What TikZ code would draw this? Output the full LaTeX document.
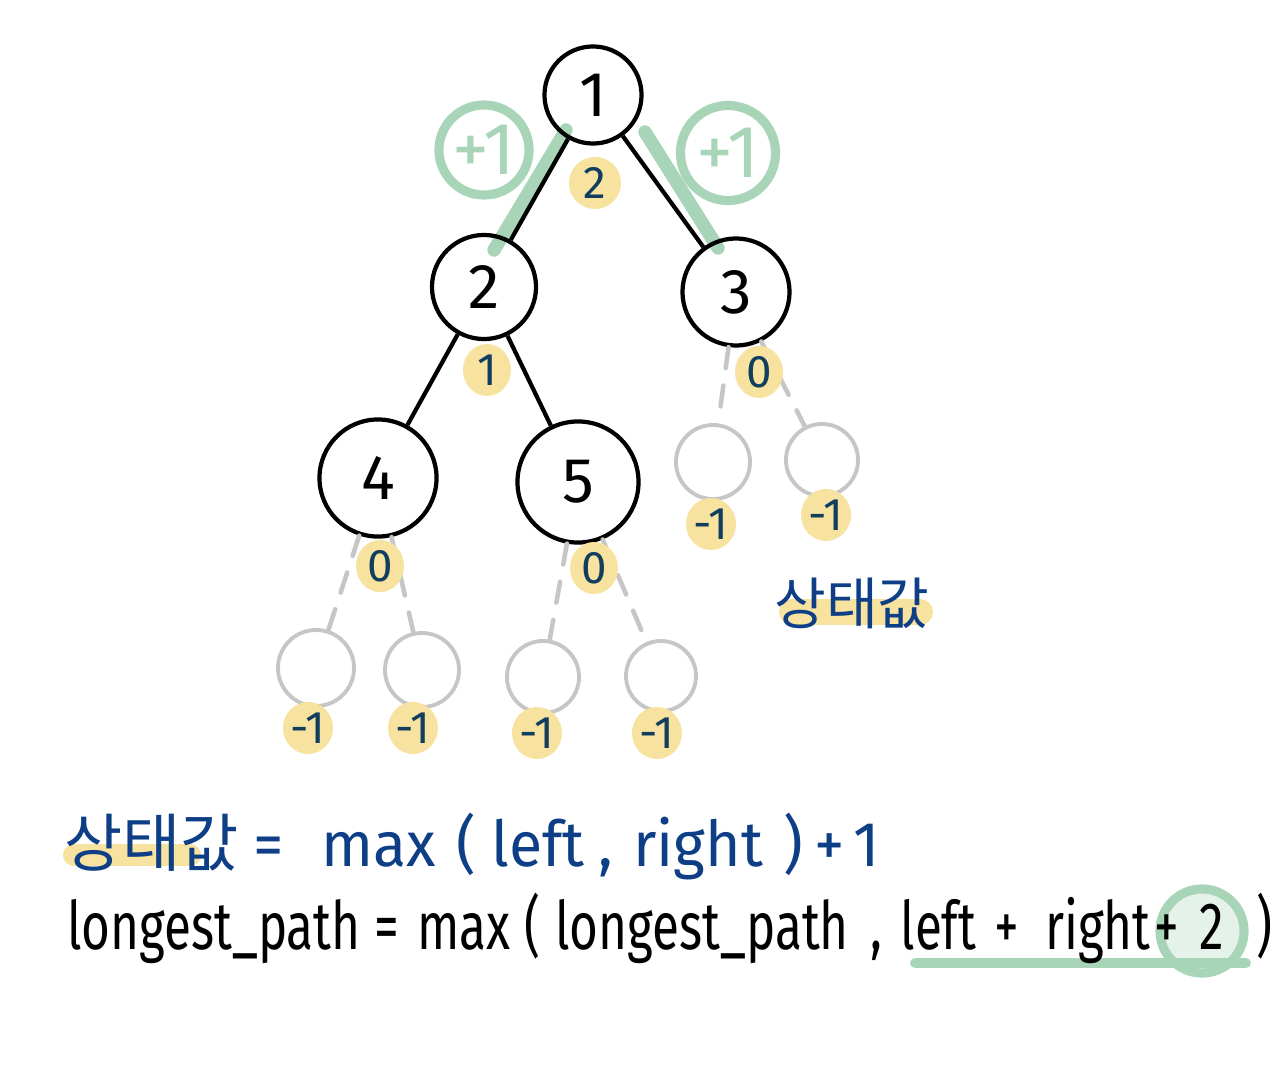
\documentclass[tikz,border=0pt]{standalone}
\usepackage{fontspec}
\setmainfont{Fira Sans}
\newfontfamily\krfont{Noto Sans CJK KR}
\newfontfamily\handfont[FakeStretch=0.74]{Fira Sans}
\newfontfamily\handwide[FakeStretch=0.96]{Fira Sans}
\usetikzlibrary{shapes.geometric}
\definecolor{hly}{HTML}{F7E2A0}
\definecolor{hlgreen}{HTML}{A8D5B8}
\definecolor{nullgray}{HTML}{C6C6C6}
\definecolor{inkblue}{HTML}{0E3F86}
\definecolor{navy}{HTML}{123E5E}
\begin{document}
\begin{tikzpicture}[
    x=0.01cm, y=-0.01cm,
    tnode/.style={draw, circle, line width=1.2pt, inner sep=0pt, font=\fontsize{18}{20}\selectfont},
    nullnode/.style={draw=nullgray, circle, line width=1.1pt, inner sep=0pt},
    val/.style={fill=hly, ellipse, inner sep=0pt, minimum width=0.48cm, minimum height=0.52cm,
        text=navy, font=\fontsize{13}{15}\selectfont},
    plusone/.style={draw=hlgreen, circle, line width=2.6pt, inner sep=0pt, text=hlgreen,
        font=\fontsize{21}{23}\selectfont},
    nulledge/.style={draw=nullgray, line width=1.3pt, line cap=round, dash pattern=on 6pt off 5pt},
    hl/.style={draw=hlgreen, line width=3.8pt, line cap=round},
    marker/.style={draw=hly, line width=0.26cm, line cap=round}
]
\useasboundingbox (0,0) rectangle (1288,1070);

% green highlights on the two upper edges
\coordinate (g1a) at (566,130);
\coordinate (g1b) at (494,250);
\coordinate (g2a) at (645,132);
\coordinate (g2b) at (718,248);
\draw[hl] (g1a) -- (g1b);
\draw[hl] (g2a) -- (g2b);

\node[plusone, minimum size=0.9cm] (pl) at (484,150) {+1};
\node[plusone, minimum size=0.95cm] (pr) at (728,153) {+1};

% tree
\node[tnode, minimum size=0.97cm] (n1) at (593,95) {1};
\node[tnode, minimum size=1.04cm] (n2) at (484,287) {2};
\node[tnode, minimum size=1.07cm] (n3) at (736,292) {3};
\node[tnode, minimum size=1.17cm] (n4) at (378,478) {4};
\node[tnode, minimum size=1.21cm] (n5) at (578,482) {5};

\node[nullnode, minimum size=0.74cm] (n3l) at (713,462) {};
\node[nullnode, minimum size=0.72cm] (n3r) at (822,460) {};
\node[nullnode, minimum size=0.76cm] (n4l) at (316,668) {};
\node[nullnode, minimum size=0.74cm] (n4r) at (422,670) {};
\node[nullnode, minimum size=0.72cm] (n5l) at (543,677) {};
\node[nullnode, minimum size=0.70cm] (n5r) at (661,676) {};

\draw[line width=1.2pt] (n1) -- (n2);
\draw[line width=1.2pt] (n1) -- (n3);
\draw[line width=1.2pt] (n2) -- (n4);
\draw[line width=1.2pt] (n2) -- (n5);

\draw[nulledge] (n3) -- (n3l);
\draw[nulledge] (n3) -- (n3r);
\draw[nulledge] (n4) -- (n4l);
\draw[nulledge] (n4) -- (n4r);
\draw[nulledge] (n5) -- (n5l);
\draw[nulledge] (n5) -- (n5r);

% state values
\node[val, minimum width=0.52cm] (v1) at (595,183) {2};
\node[val] (v2) at (487,370) {1};
\node[val] (v3) at (759,372) {0};
\node[val] (v4) at (380,566) {0};
\node[val] (v5) at (594,568) {0};
\node[val, minimum width=0.5cm] (v3l) at (711,524) {-1};
\node[val, minimum width=0.5cm] (v3r) at (826,515) {-1};
\node[val, minimum width=0.5cm] (v4l) at (308,728) {-1};
\node[val, minimum width=0.5cm] (v4r) at (413,728) {-1};
\node[val, minimum width=0.5cm] (v5l) at (537,733) {-1};
\node[val, minimum width=0.5cm] (v5r) at (657,733) {-1};

\coordinate (m1a) at (792,612);
\coordinate (m1b) at (920,612);
\draw[marker] (m1a) -- (m1b);
\node[text=inkblue, font=\krfont\fontsize{16}{18}\selectfont] (state) at (852,603) {상태값};

% formulas
\coordinate (m2a) at (74,855);
\coordinate (m2b) at (190,855);
\draw[marker, line width=0.22cm] (m2a) -- (m2b);
\node[anchor=west, text=inkblue, font=\fontsize{18}{20}\selectfont] (eq1) at (52,846)
    {{\krfont 상태값}\kern0.14cm{\handwide =\kern0.38cm max\kern0.2cm(\kern0.16cm left\kern0.14cm,\kern0.2cm
     right\kern0.2cm)\kern0.12cm+\kern0.08cm 1}};

\coordinate (u1) at (915,963);
\coordinate (u2) at (1246,963);
\draw[hl, line width=2.8pt] (u1) -- (u2);
\node[plusone, fill=hlgreen, fill opacity=0.3, minimum size=0.84cm] (two) at (1202,931) {};
\node[anchor=west, font=\fontsize{19}{21}\selectfont] (eq2) at (55,928)
    {\handfont longest\_path\kern0.14cm=\kern0.18cm max\kern0.14cm(\kern0.15cm longest\_path\kern0.22cm,\kern0.18cm
     left\kern0.18cm+\kern0.26cm right\kern0.04cm+\kern0.2cm 2\kern0.33cm)};
\end{tikzpicture}
\end{document}
